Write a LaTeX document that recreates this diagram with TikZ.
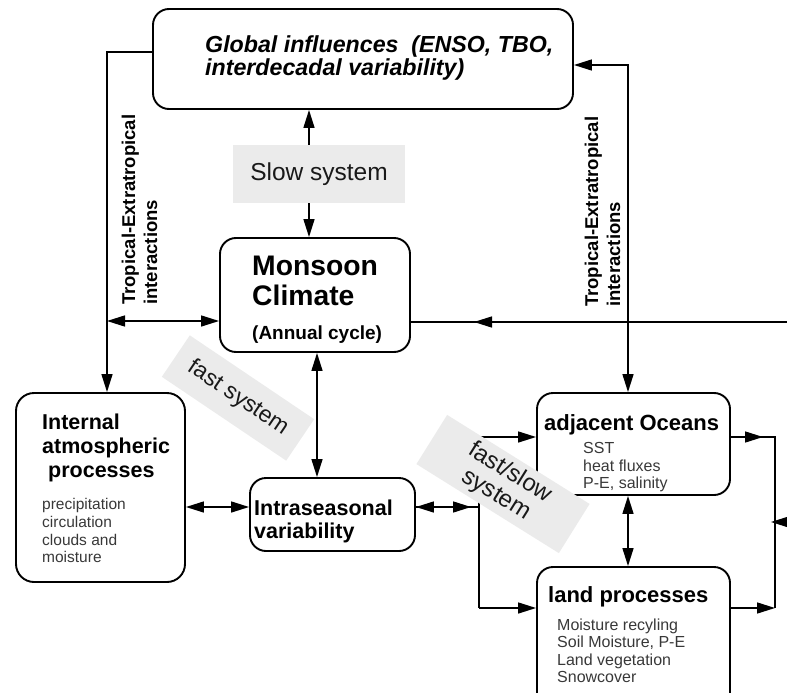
\documentclass[tikz,border=0pt]{standalone}
\usepackage{fontspec}
\setmainfont{Liberation Sans}
\usetikzlibrary{arrows.meta}
\definecolor{boxgrey}{HTML}{EBEBEB}
\definecolor{smallgrey}{HTML}{383838}
\newcommand\myfs[2]{\fontsize{#1}{#2}\selectfont}
\begin{document}
\begin{tikzpicture}[x=1pt,y=-1pt,
  box/.style={draw, line width=1.9pt, rounded corners=16pt, inner sep=0pt},
  con/.style={line width=1.5pt},
  arr/.style={con, -{Triangle[length=18pt,width=11pt]}},
  darr/.style={con, {Triangle[length=18pt,width=11pt]}-{Triangle[length=18pt,width=11pt]}},
  greybox/.style={fill=boxgrey, inner sep=0pt, text=black!90},
  lbl/.style={anchor=base west, inner sep=0pt},
  head/.style={lbl, font=\bfseries\myfs{21.5}{24}},
  small/.style={lbl, text=smallgrey, font=\myfs{15.5}{18}},
  trop/.style={lbl, rotate=90, font=\bfseries\myfs{18.5}{21}}
]
\useasboundingbox (0,0) rectangle (787,693);
\clip (0,0) rectangle (787,693);

% boxes
\node[box, minimum width=420pt, minimum height=100pt] (global) at (363,59) {};
\node[box, minimum width=190pt, minimum height=114pt] (monsoon) at (315,295) {};
\node[box, rounded corners=18pt, minimum width=169pt, minimum height=189pt] (internal) at (100.5,487.5) {};
\node[box, minimum width=165pt, minimum height=73pt] (intra) at (332.5,514.5) {};
\node[box, minimum width=193pt, minimum height=102pt] (ocean) at (633.5,444) {};
\node[box, minimum width=193pt, minimum height=153pt] (land) at (633.5,643.5) {};

% texts
\node[lbl, font=\bfseries\itshape\myfs{23.2}{24}] (g1) at (205,53) {Global influences\ \ (ENSO, TBO,};
\node[lbl, font=\bfseries\itshape\myfs{23.2}{24}] (g2) at (205,75) {interdecadal variability)};
\node[lbl, font=\bfseries\myfs{28.3}{30}] (m1) at (252,275) {Monsoon};
\node[lbl, font=\bfseries\myfs{28.3}{30}] (m2) at (252,305) {Climate};
\node[lbl, font=\bfseries\myfs{19}{20}] (m3) at (252,339) {(Annual cycle)};
\node[head] (i1) at (42,429) {Internal};
\node[head] (i2) at (42,453) {atmospheric};
\node[head] (i3) at (48,477) {processes};
\node[small] (i4) at (42,509) {precipitation};
\node[small] (i5) at (42,527) {circulation};
\node[small] (i6) at (42,545) {clouds and};
\node[small] (i7) at (42,562) {moisture};
\node[head] (v1) at (254,515) {Intraseasonal};
\node[head] (v2) at (254,538) {variability};
\node[head, font=\bfseries\myfs{22}{24}] (o1) at (544,430) {adjacent Oceans};
\node[small, font=\myfs{16}{18}] (o2) at (583,453) {SST};
\node[small, font=\myfs{16}{18}] (o3) at (583,471) {heat fluxes};
\node[small, font=\myfs{16}{18}] (o4) at (583,488) {P-E, salinity};
\node[head, font=\bfseries\myfs{22}{24}] (l1) at (548,602) {land processes};
\node[small, font=\myfs{16}{18}] (l2) at (557,630) {Moisture recyling};
\node[small, font=\myfs{16}{18}] (l3) at (557,647) {Soil Moisture, P-E};
\node[small, font=\myfs{16}{18}] (l4) at (557,665) {Land vegetation};
\node[small, font=\myfs{16}{18}] (l5) at (557,682) {Snowcover};
\node[trop] (t1) at (135,305) {Tropical-Extratropical};
\node[trop] (t2) at (157,305) {interactions};
\node[trop] (t3) at (598,307) {Tropical-Extratropical};
\node[trop] (t4) at (620,307) {interactions};

% connectors
\coordinate (gl) at (107,52);
\draw[arr] (global.west |- gl) -- (gl) -- (gl |- internal.north);
\coordinate (ml) at (107,321);
\draw[darr] (ml) -- (ml -| monsoon.west);
\coordinate (gm) at (309,0);
\draw[darr] (gm |- global.south) -- (gm |- monsoon.north);
\coordinate (gr) at (628,65);
\draw[darr] (gr -| global.east) -- (gr) -- (gr |- ocean.north);
\coordinate (re) at (800,322);
\coordinate (rm) at (474,322);
\draw[con] (re) -- (re -| monsoon.east);
\draw[arr] (re) -- (rm);
\coordinate (mi) at (317,0);
\draw[darr] (mi |- monsoon.south) -- (mi |- intra.north);
\coordinate (ii) at (0,507);
\draw[darr] (ii -| internal.east) -- (ii -| intra.west);
\coordinate (sp) at (479,507);
\coordinate (spa) at (471,507);
\draw[con] (sp -| intra.east) -- (sp);
\draw[darr] (sp -| intra.east) -- (spa);
\coordinate (so) at (479,437);
\coordinate (sl) at (479,608);
\draw[con] (so) -- (sl);
\draw[arr] (so) -- (so -| ocean.west);
\draw[arr] (sl) -- (sl -| land.west);
\draw[darr] (gr |- ocean.south) -- (gr |- land.north);
\coordinate (ro) at (775,437);
\coordinate (rl) at (775,608);
\coordinate (ra) at (763,437);
\draw[con] (ro -| ocean.east) -- (ro) -- (rl);
\draw[arr] (ro -| ocean.east) -- (ra);
\draw[arr] (rl -| land.east) -- (rl);
\coordinate (rx) at (800,522);
\coordinate (rxe) at (771,522);
\draw[arr] (rx) -- (rxe);

% grey labels
\node[greybox, minimum width=172pt, minimum height=58pt, font=\myfs{24.5}{27}] (slow) at (319,174) {Slow system};
\node[greybox, rotate=-34, minimum width=150pt, minimum height=50pt, font=\myfs{23}{26}] (fast) at (238,398) {\raisebox{-3pt}{fast system}};
\node[greybox, rotate=-32, minimum width=168pt, minimum height=58pt, align=center, font=\myfs{24}{26}] (fastslow) at (503,484) {fast/slow\\system};
\end{tikzpicture}
\end{document}
